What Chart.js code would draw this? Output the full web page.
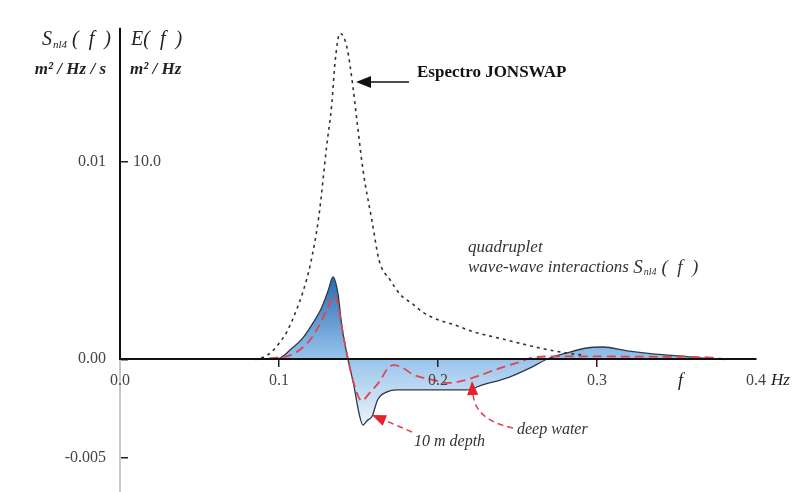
<!DOCTYPE html>
<html>
<head>
<meta charset="utf-8">
<script src="https://cdn.jsdelivr.net/npm/chart.js@4.4.1/dist/chart.umd.min.js"></script>
<style>
  html, body { margin: 0; padding: 0; background: #fff; }
  #wrap { width: 799px; height: 492px; position: relative; }
</style>
</head>
<body>
<div id="wrap"><canvas id="grafico"></canvas></div>
<script>
// Espectro JONSWAP E(f) em m2/Hz
const freqJonswap = [0.08, 0.085, 0.09, 0.095, 0.1, 0.105, 0.11, 0.115, 0.12, 0.125, 0.13, 0.1333, 0.1352, 0.1384, 0.1427, 0.1465, 0.149, 0.1528, 0.1585, 0.163, 0.17, 0.176, 0.184, 0.19, 0.2, 0.21, 0.222, 0.243, 0.264, 0.28, 0.29];
const espectroE = [0, 0.02, 0.1, 0.35, 0.8, 1.4, 2.3, 3.4, 4.9, 7.2, 10.8, 13.0, 15.0, 16.5, 15.8, 13.8, 12.1, 9.6, 7.0, 5.0, 4.0, 3.3, 2.8, 2.4, 2.0, 1.75, 1.4, 0.98, 0.57, 0.33, 0.22];

// Snl4 em 10 m de profundidade (curva preenchida)
const freqRaso = [0.08, 0.09, 0.1, 0.107, 0.115, 0.1214, 0.127, 0.131, 0.134, 0.137, 0.1396, 0.1434, 0.147, 0.1505, 0.1528, 0.1555, 0.1585, 0.162, 0.168, 0.174, 0.19, 0.205, 0.218, 0.228, 0.245, 0.258, 0.2685, 0.281, 0.2937, 0.304, 0.319, 0.335, 0.352, 0.365, 0.38, 0.4];
const snl4Raso = [0, 0.00001, 0.00005, 0.00047, 0.00108, 0.00184, 0.00265, 0.0035, 0.00417, 0.00336, 0.00164, 0, -0.0013, -0.0028, -0.00333, -0.0031, -0.0029, -0.00206, -0.00165, -0.00155, -0.00155, -0.00155, -0.00155, -0.0013, -0.0009, -0.00044, 0, 0.00032, 0.00057, 0.00062, 0.00042, 0.00027, 0.00017, 0.00007, 0, 0];

// Snl4 em águas profundas (tracejado vermelho)
const freqProfundo = [0.085, 0.095, 0.1, 0.107, 0.1176, 0.1245, 0.13, 0.1345, 0.137, 0.1396, 0.1434, 0.147, 0.152, 0.157, 0.1635, 0.168, 0.172, 0.177, 0.185, 0.197, 0.207, 0.215, 0.225, 0.239, 0.2516, 0.26, 0.28, 0.35, 0.37, 0.38];
const snl4Profundo = [0, 0.00005, 0.0001, 0.0002, 0.0008, 0.0016, 0.0025, 0.0032, 0.0028, 0.0016, 0, -0.0012, -0.0021, -0.0017, -0.0011, -0.0005, -0.0003, -0.0004, -0.0008, -0.00105, -0.0012, -0.0011, -0.00085, -0.00045, -0.00013, 0.0001, 0.00015, 0.00012, 0.0001, 0];

// ticks
const xTicks = [0, 0.1, 0.2, 0.3, 0.4];
const xTickLabels = ['0.0', '0.1', '0.2', '0.3', '0.4'];
const yTicks = [-0.005, 0, 0.01];
const yTickLabels = ['-0.005', '0.00', '0.01'];
const eTicks = [10];
const eTickLabels = ['10.0'];

const yMin = -0.00672, yMax = 0.01677;

const pontos = (xs, ys) => xs.map((x, i) => ({ x: x, y: ys[i] }));

const serif = '"Liberation Serif", "DejaVu Serif", serif';

function textoSub(c, x, y, base, sub, resto, size) {
    c.font = `italic ${size}px ${serif}`;
    c.fillText(base, x, y);
    x += c.measureText(base).width + 1;
    c.font = `italic ${Math.round(size * 0.55)}px ${serif}`;
    c.fillText(sub, x, y + size * 0.25);
    x += c.measureText(sub).width + 5;
    c.font = `italic ${size}px ${serif}`;
    c.fillText(resto, x, y);
}

function seta(c, x1, y1, x2, y2, cor, tam) {
    const ang = Math.atan2(y2 - y1, x2 - x1);
    c.fillStyle = cor;
    c.beginPath();
    c.moveTo(x2, y2);
    c.lineTo(x2 - tam * Math.cos(ang) + tam * 0.4 * Math.sin(ang), y2 - tam * Math.sin(ang) - tam * 0.4 * Math.cos(ang));
    c.lineTo(x2 - tam * Math.cos(ang) - tam * 0.4 * Math.sin(ang), y2 - tam * Math.sin(ang) + tam * 0.4 * Math.cos(ang));
    c.closePath();
    c.fill();
}

// sem folga extra dos rótulos do eixo y (área do gráfico vai de 28 a 492)
function semFolga(scale, largura) {
    scale.width = largura;
    scale.paddingTop = 0;
    scale.paddingBottom = 0;
}

const fundoBranco = {
    id: 'fundoBranco',
    beforeDraw(chart) {
        const c = chart.ctx;
        c.save();
        c.fillStyle = '#fff';
        c.fillRect(0, 0, chart.width, chart.height);
        c.restore();
    },
    beforeDatasetsDraw(chart) {
        // parte de cima do eixo vertical em preto (a de baixo fica cinza)
        const c = chart.ctx;
        const area = chart.chartArea;
        const y0 = chart.scales.y.getPixelForValue(0);
        c.save();
        c.lineWidth = 2;
        c.strokeStyle = '#111';
        c.beginPath(); c.moveTo(area.left, area.top); c.lineTo(area.left, y0); c.stroke();
        c.restore();
    }
};

const anotacoes = {
    id: 'anotacoes',
    afterDraw(chart) {
        const c = chart.ctx;
        c.save();

        c.fillStyle = '#222';
        c.textBaseline = 'middle';
        c.textAlign = 'left';

        // títulos dos eixos
        textoSub(c, 42, 40, 'S', 'nl4', '(  f  )', 20);
        c.font = `italic 20px ${serif}`;
        c.fillText('E(  f  )', 131, 40);
        c.font = `italic bold 17px ${serif}`;
        c.textAlign = 'right';
        c.fillText('m² / Hz / s', 106, 70);
        c.textAlign = 'left';
        c.fillText('m² / Hz', 130, 70);

        // eixo x
        c.font = `italic 18px ${serif}`;
        c.fillText('f', 678, 381);
        c.font = `italic 17px ${serif}`;
        c.fillText('Hz', 771, 381);

        // JONSWAP
        c.font = `bold 17px ${serif}`;
        c.fillStyle = '#111';
        c.fillText('Espectro JONSWAP', 417, 73);
        c.strokeStyle = '#111';
        c.lineWidth = 1.5;
        c.beginPath(); c.moveTo(409, 82); c.lineTo(368, 82); c.stroke();
        seta(c, 409, 82, 356, 82, '#111', 15);

        // texto das interações
        c.fillStyle = '#333';
        c.font = `italic 17px ${serif}`;
        c.fillText('quadruplet', 468, 248);
        c.fillText('wave-wave interactions ', 468, 268);
        const w = c.measureText('wave-wave interactions ').width;
        textoSub(c, 468 + w, 268, 'S', 'nl4', '(  f  )', 19);

        // setas vermelhas
        c.strokeStyle = '#e0454f';
        c.lineWidth = 1.5;
        c.setLineDash([6, 4]);
        c.beginPath(); c.moveTo(412, 432); c.lineTo(384, 420); c.stroke();
        c.beginPath(); c.moveTo(513, 428); c.quadraticCurveTo(475, 420, 473, 394); c.stroke();
        c.setLineDash([]);
        seta(c, 412, 432, 372, 415, '#e8202c', 14);
        seta(c, 473, 400, 472, 381, '#e8202c', 14);

        c.fillStyle = '#333';
        c.font = `italic 16px ${serif}`;
        c.fillText('10 m depth', 414, 442);
        c.fillText('deep water', 517, 430);

        c.restore();
    }
};

const ctx = document.getElementById('grafico');

new Chart(ctx, {
    type: 'line',
    data: {
        datasets: [
            {
                label: 'Espectro JONSWAP',
                data: pontos(freqJonswap, espectroE),
                yAxisID: 'yE',
                borderColor: '#333',
                borderWidth: 1.6,
                borderDash: [3, 4],
                pointRadius: 0,
                cubicInterpolationMode: 'monotone',
                fill: false
            },
            {
                label: 'deep water',
                data: pontos(freqProfundo, snl4Profundo),
                yAxisID: 'y',
                borderColor: '#e0454f',
                borderWidth: 1.8,
                borderDash: [9, 5],
                pointRadius: 0,
                cubicInterpolationMode: 'monotone',
                fill: false
            },
            {
                label: '10 m depth',
                data: pontos(freqRaso, snl4Raso),
                yAxisID: 'y',
                borderColor: '#2b3a48',
                borderWidth: 1.3,
                pointRadius: 0,
                cubicInterpolationMode: 'monotone',
                fill: 'origin',
                backgroundColor: (context) => {
                    const chart = context.chart;
                    const { chartArea, scales } = chart;
                    if (!chartArea) return '#8dbce8';
                    const g = chart.ctx.createLinearGradient(0, scales.y.getPixelForValue(0.0042), 0, scales.y.getPixelForValue(-0.0034));
                    g.addColorStop(0, '#2a68b0');
                    g.addColorStop(0.5, '#8dbce8');
                    g.addColorStop(0.6, '#a2c9ee');
                    g.addColorStop(1, '#eef5fb');
                    return g;
                }
            }
        ]
    },
    options: {
        responsive: true,
        maintainAspectRatio: false,
        animation: false,
        layout: { padding: { top: 28, right: 43, bottom: 0, left: 0 } },
        plugins: {
            legend: { display: false },
            tooltip: { enabled: false }
        },
        scales: {
            x: {
                type: 'linear',
                min: 0,
                max: 0.4,
                position: { y: 0 },
                afterFit: (scale) => { scale.height = 0; },
                afterBuildTicks: (scale) => { scale.ticks = xTicks.map(v => ({ value: v })); },
                ticks: {
                    z: 2,
                    callback: (v) => xTickLabels[xTicks.indexOf(v)],
                    font: { family: serif, size: 16 },
                    color: '#444',
                    padding: 5,
                    maxRotation: 0,
                    autoSkip: false
                },
                grid: {
                    z: 2,
                    drawOnChartArea: false,
                    drawTicks: true,
                    tickLength: 7,
                    color: (c) => (c.tick && (c.tick.value === 0 || c.tick.value === 0.4)) ? 'rgba(0,0,0,0)' : '#222',
                    lineWidth: 1.5
                },
                border: { display: true, color: '#111', width: 2, z: 2 }
            },
            y: {
                type: 'linear',
                min: yMin,
                max: yMax,
                position: 'left',
                weight: 1,
                afterFit: (scale) => semFolga(scale, 120),
                afterBuildTicks: (scale) => { scale.ticks = yTicks.map(v => ({ value: v })); },
                ticks: {
                    callback: (v) => yTickLabels[yTicks.indexOf(v)],
                    font: { family: serif, size: 16 },
                    color: '#444',
                    padding: 22
                },
                grid: { drawOnChartArea: false, drawTicks: true, tickLength: -8, color: '#222', lineWidth: 1.5 },
                border: { display: true, color: '#c8c8c8', width: 2 }
            },
            yE: {
                type: 'linear',
                min: yMin * 1000,
                max: yMax * 1000,
                position: 'left',
                weight: 0,
                afterFit: (scale) => semFolga(scale, 0),
                afterBuildTicks: (scale) => { scale.ticks = eTicks.map(v => ({ value: v })); },
                ticks: {
                    callback: (v) => eTickLabels[eTicks.indexOf(v)],
                    font: { family: serif, size: 16 },
                    color: '#444',
                    mirror: true,
                    padding: 13
                },
                grid: { display: false, drawTicks: false },
                border: { display: false }
            }
        }
    },
    plugins: [fundoBranco, anotacoes]
});
</script>
</body>
</html>
